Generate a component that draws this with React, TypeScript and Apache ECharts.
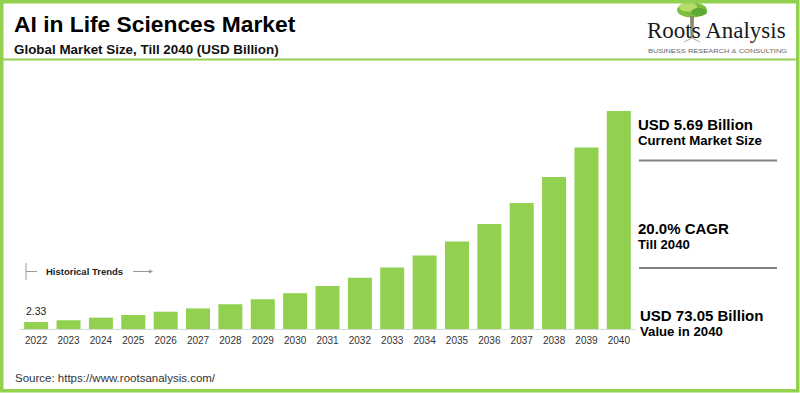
import React, { useEffect, useRef } from "react";
import * as echarts from "echarts";

const years = ["2022","2023","2024","2025","2026","2027","2028","2029","2030","2031","2032","2033","2034","2035","2036","2037","2038","2039","2040"];
const marketSize = [2.33, 2.9, 3.8, 4.7, 5.8, 6.9, 8.3, 10.0, 12.0, 14.4, 17.2, 20.6, 24.6, 29.3, 35.2, 42.2, 50.9, 60.8, 73.05];
const titleText = "AI in Life Sciences Market";
const subtitleText = "Global Market Size, Till 2040 (USD Billion)";
const sideNotes = [
  ["USD 5.69 Billion", "Current Market Size"],
  ["20.0% CAGR", "Till 2040"],
  ["USD 73.05 Billion", "Value in 2040"],
];
const sourceText = "Source: https://www.rootsanalysis.com/";

const FONT = '"Liberation Sans", Arial, sans-serif';
const GREEN = "#92D050";

function txt(x: number, y: number, text: string, font: string, fill = "#000", align = "left", extra: any = {}) {
  return {
    type: "text",
    x,
    y,
    ...extra,
    style: { text, font, fill, textAlign: align, textVerticalAlign: "middle" },
  };
}

export default function App() {
  const ref = useRef<HTMLDivElement>(null);
  useEffect(() => {
    if (!ref.current) return;
    const chart = echarts.init(ref.current, null, { renderer: "svg" });
    const data = marketSize.map((v, i) =>
      i === 0
        ? {
            value: v,
            label: {
              show: true,
              position: "top",
              distance: 6,
              formatter: String(v),
              fontSize: 10.5,
              color: "#222",
              fontFamily: FONT,
            },
          }
        : v
    );
    const graphic: any[] = [
      { type: "rect", shape: { x: 1.75, y: 1.75, width: 796, height: 389 }, style: { fill: "none", stroke: GREEN, lineWidth: 3.5 }, z: 10 },
      { type: "line", shape: { x1: 3, y1: 59.5, x2: 797, y2: 59.5 }, style: { stroke: GREEN, lineWidth: 2 } },
      txt(14, 24, titleText, `bold 22.8px ${FONT}`, "#000"),
      txt(14, 49, subtitleText, `bold 13.4px ${FONT}`, "#111"),
      // logo
      { type: "ellipse", shape: { cx: 692, cy: 10, rx: 15, ry: 7.5 }, style: { fill: "#7cbf3f" } },
      { type: "ellipse", shape: { cx: 688, cy: 7, rx: 9, ry: 4.5 }, style: { fill: "#b5dc6a" } },
      { type: "ellipse", shape: { cx: 699, cy: 12, rx: 8, ry: 4 }, style: { fill: "#5fa83a" } },
      { type: "polygon", shape: { points: [[690, 16], [694, 16], [693.5, 37], [690.5, 37]] }, style: { fill: "#8a8a6a" } },
      { type: "polyline", shape: { points: [[684, 42], [692, 38], [700, 42]] }, style: { stroke: "#a8a8a0", lineWidth: 1, fill: "none" } },
      txt(647, 30, "Roots Analysis", `23px "Liberation Serif", "Times New Roman", serif`, "#1a1a1a"),
      txt(648, 51.5, "BUSINESS RESEARCH & CONSULTING", `5px ${FONT}`, "#666", "left", { scaleX: 1.5 }),
      // side notes
      txt(638, 124, sideNotes[0][0], `bold 15px ${FONT}`, "#000"),
      txt(638, 140, sideNotes[0][1], `bold 13.2px ${FONT}`, "#000"),
      { type: "line", shape: { x1: 639, y1: 160.5, x2: 777, y2: 160.5 }, style: { stroke: "#808080", lineWidth: 2 } },
      txt(638, 228, sideNotes[1][0], `bold 15px ${FONT}`, "#000"),
      txt(638, 244, sideNotes[1][1], `bold 13.2px ${FONT}`, "#000"),
      { type: "line", shape: { x1: 639, y1: 268, x2: 777, y2: 268 }, style: { stroke: "#808080", lineWidth: 2 } },
      txt(640, 315.5, sideNotes[2][0], `bold 15px ${FONT}`, "#000"),
      txt(640, 331, sideNotes[2][1], `bold 13.2px ${FONT}`, "#000"),
      // historical trends
      { type: "line", shape: { x1: 26, y1: 263, x2: 26, y2: 280 }, style: { stroke: "#999", lineWidth: 1 } },
      { type: "line", shape: { x1: 26, y1: 271.5, x2: 37, y2: 271.5 }, style: { stroke: "#999", lineWidth: 1 } },
      txt(46, 271.5, "Historical Trends", `bold 9.5px ${FONT}`, "#222"),
      { type: "line", shape: { x1: 133, y1: 271.5, x2: 150, y2: 271.5 }, style: { stroke: "#999", lineWidth: 1 } },
      { type: "polygon", shape: { points: [[149, 269.5], [153, 271.5], [149, 273.5]] }, style: { fill: "#999" } },
      txt(15, 378, sourceText, `11.5px ${FONT}`, "#333"),
    ];
    chart.setOption({
      animation: false,
      backgroundColor: "#fff",
      grid: { left: 20, right: 165, top: 111, bottom: 64, containLabel: false },
      xAxis: {
        type: "category",
        data: years,
        axisLine: { lineStyle: { color: "#d9d9d9", width: 1 } },
        axisTick: { show: false },
        axisLabel: { interval: 0, fontSize: 10, color: "#333", margin: 6, fontFamily: FONT },
      },
      yAxis: { type: "value", min: 0, max: 73.05, show: false, splitLine: { show: false } },
      series: [
        {
          type: "bar",
          data,
          barWidth: 24,
          itemStyle: { color: GREEN },
        },
      ],
      graphic,
    });
    return () => chart.dispose();
  }, []);
  return <div ref={ref} style={{ position: "fixed", left: 0, top: 0, width: 800, height: 393 }} />;
}
